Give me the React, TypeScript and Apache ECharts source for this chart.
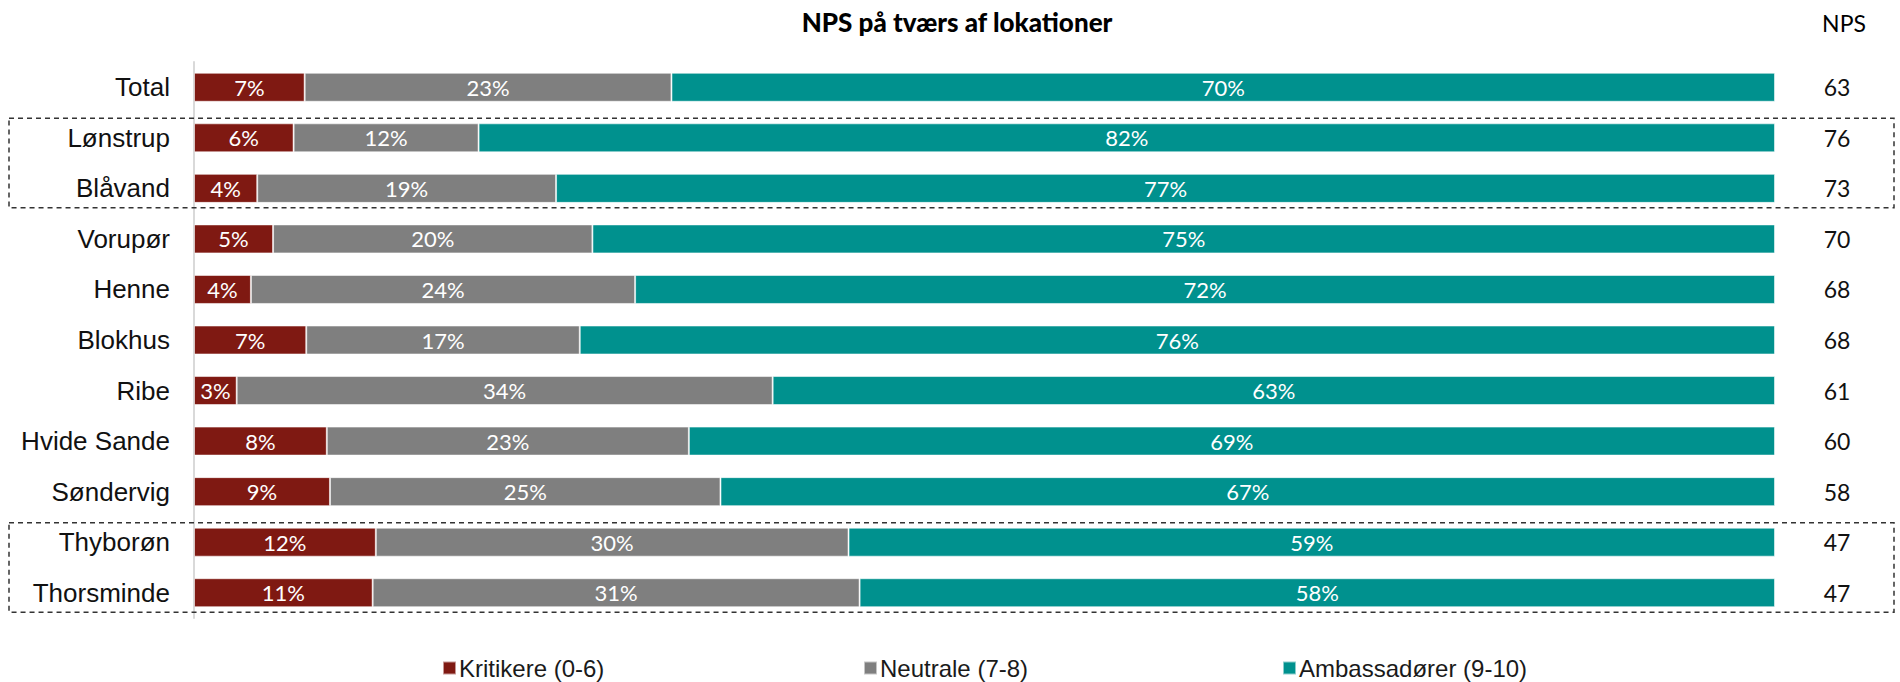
import React, { useEffect, useRef } from "react";
import * as echarts from "echarts";

const categories = [
  "Total",
  "Lønstrup",
  "Blåvand",
  "Vorupør",
  "Henne",
  "Blokhus",
  "Ribe",
  "Hvide Sande",
  "Søndervig",
  "Thyborøn",
  "Thorsminde",
];
const kritikere = [7.0, 6.3, 4.0, 5.0, 3.6, 7.1, 2.7, 8.4, 8.6, 11.5, 11.3];
const neutrale = [23.2, 11.7, 18.9, 20.2, 24.3, 17.3, 33.9, 22.9, 24.7, 29.9, 30.8];
const ambassadorer = [69.8, 82.0, 77.1, 74.8, 72.1, 75.6, 63.4, 68.7, 66.7, 58.6, 57.9];
const npsValues = ["63", "76", "73", "70", "68", "68", "61", "60", "58", "47", "47"];
const seriesNames = ["Kritikere (0-6)", "Neutrale (7-8)", "Ambassadører (9-10)"];
const highlightGroups = [
  ["Lønstrup", "Blåvand"],
  ["Thyborøn", "Thorsminde"],
];

const COLORS = ["#7F1912", "#7F7F7F", "#00918E"];
const ARIAL = "'Liberation Sans', Arial, sans-serif";
const GEO = "Lato, 'Open Sans', sans-serif";

export default function App() {
  const ref = useRef<HTMLDivElement>(null);

  useEffect(() => {
    if (!ref.current) return;
    const chart = echarts.init(ref.current, undefined, { renderer: "svg" });
    const dataSets = [kritikere, neutrale, ambassadorer];
    const BAR_H = 29;

    const series = dataSets.map((d, i) => ({
      name: seriesNames[i],
      type: "bar",
      stack: "total",
      barWidth: BAR_H,
      data: d,
      itemStyle: {
        color: COLORS[i],
        borderColor: "rgba(255,255,255,0.55)",
        borderWidth: 1,
      },
      label: {
        show: true,
        position: "inside",
        color: "#ffffff",
        fontFamily: GEO,
        fontSize: 22,
        formatter: (p: any) => Math.round(p.value) + "%",
      },
      emphasis: { disabled: true },
    }));

    const legendX = [442, 863, 1282];
    const legends = seriesNames.map((n, i) => ({
      data: [n],
      left: legendX[i],
      top: 655,
      padding: 0,
      icon: "rect",
      itemWidth: 13,
      itemHeight: 13,
      itemGap: 5,
      textStyle: {
        fontFamily: ARIAL,
        fontSize: 24,
        lineHeight: 26,
        color: "#1a1a1a",
        padding: [0, 0, 0, -2],
      },
      selectedMode: false,
    }));

    chart.setOption({
      animation: false,
      title: [
        {
          text: "NPS på tværs af lokationer",
          left: 952,
          top: 4,
          textAlign: "center",
          textStyle: { fontFamily: GEO, fontWeight: 900, fontSize: 26, color: "#000" },
        },
        {
          text: "NPS",
          left: 1839,
          top: 6,
          textAlign: "center",
          textStyle: { fontFamily: GEO, fontWeight: "normal", fontSize: 23, color: "#000" },
        },
      ],
      legend: legends,
      grid: {
        left: 194,
        right: 125,
        top: 62,
        bottom: 64,
        containLabel: false,
        outerBoundsMode: "none",
      },
      xAxis: {
        type: "value",
        min: 0,
        max: 100,
        show: false,
      },
      yAxis: [
        {
          type: "category",
          data: categories,
          inverse: true,
          axisLine: { show: true, lineStyle: { color: "#d9d9d9", width: 2 } },
          axisTick: { show: false },
          axisLabel: { margin: 24, fontFamily: ARIAL, fontSize: 26, color: "#111" },
        },
        {
          type: "category",
          data: npsValues,
          inverse: true,
          position: "right",
          axisLine: { show: false },
          axisTick: { show: false },
          axisLabel: { margin: 62, align: "center", fontFamily: GEO, fontSize: 23, color: "#111" },
        },
      ],
      series,
    });

    const graphics = highlightGroups.map((g) => {
      const y0 = chart.convertToPixel({ yAxisIndex: 0 }, g[0]) as number;
      const y1 = chart.convertToPixel({ yAxisIndex: 0 }, g[g.length - 1]) as number;
      const top = y0 - BAR_H / 2 - 5;
      const bottom = y1 + BAR_H / 2 + 5;
      return {
        type: "rect",
        shape: { x: 9, y: top, width: 1885, height: bottom - top },
        style: { fill: "none", stroke: "#333", lineWidth: 1.5, lineDash: [5, 4] },
        silent: true,
        z: 10,
      };
    });
    chart.setOption({ graphic: graphics });

    return () => chart.dispose();
  }, []);

  return (
    <div
      ref={ref}
      style={{ position: "fixed", left: 0, top: 0, width: 1900, height: 682, background: "#fff" }}
    />
  );
}
